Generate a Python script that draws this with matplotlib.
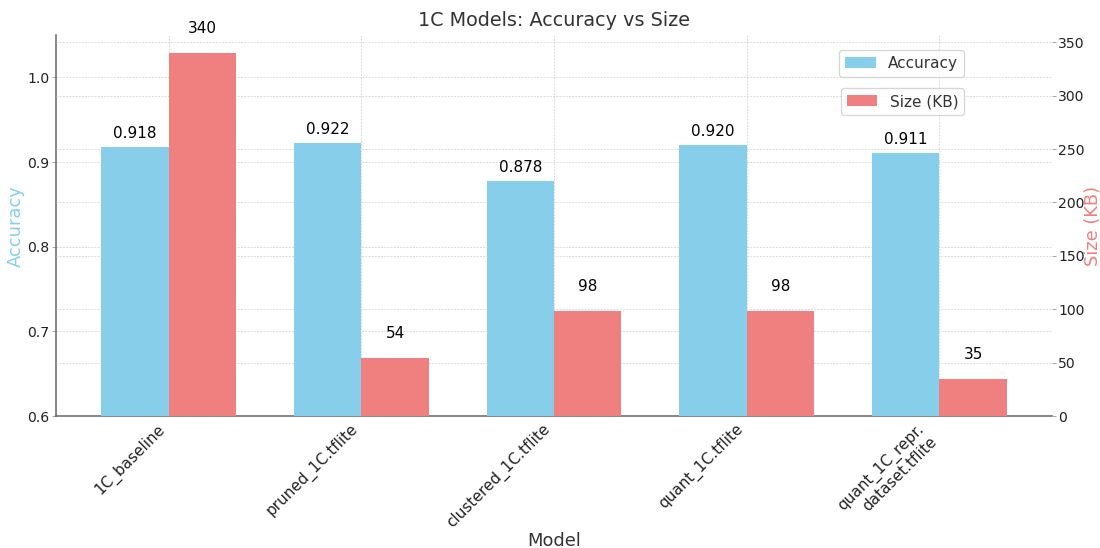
import matplotlib
matplotlib.use('Agg')
import matplotlib.pyplot as plt
import numpy as np

models = ['1C_baseline', 'pruned_1C.tflite', 'clustered_1C.tflite',
          'quant_1C.tflite', 'quant_1C_repr.\ndataset.tflite']
accuracy = [0.918, 0.922, 0.878, 0.920, 0.911]
size_kb = [340, 54, 98, 98, 35]

acc_color = 'skyblue'
size_color = 'lightcoral'
text_color = '#333333'
width = 0.35

x = np.arange(len(models))

fig = plt.figure(figsize=(12, 5.98), dpi=1100 / 12)
ax1 = fig.add_subplot(111)
fig.subplots_adjust(left=0.0509, right=0.9564, bottom=0.2409, top=0.9361)
ax2 = ax1.twinx()
# overlay axes so the accuracy bars sit above the size-axis grid
ax3 = fig.add_axes(ax1.get_position(), sharex=ax1, sharey=ax1, frameon=False)
ax3.axis('off')

for ax in (ax1, ax2):
    ax.set_axisbelow(True)
    ax.grid(True, linestyle=(0, (3, 2)), linewidth=0.5, color='#c8c8c8')
    for s in ('top', 'right'):
        ax.spines[s].set_visible(False)
    ax.tick_params(colors='#aaaaaa', labelcolor='#222222', labelsize=11, length=3, pad=2)
ax2.grid(axis='x', visible=False)
ax2.spines['left'].set_visible(False)
ax2.spines['bottom'].set_visible(False)
for s in ('left', 'bottom'):
    ax1.spines[s].set_color('#666666')
    ax1.spines[s].set_linewidth(1.2)

b1 = ax3.bar(x - width / 2, accuracy, width, color=acc_color, label='Accuracy')
b2 = ax2.bar(x + width / 2, size_kb, width, color=size_color, label='Size (KB)')

ax1.set_ylim(0.6, 1.05)
ax2.set_ylim(0, max(size_kb) * 1.05)
ax1.set_xlim(-0.585, len(models) - 1 + 0.585)

for xi, v in zip(x, accuracy):
    ax3.text(xi - width / 2, v + 0.007, f'{v:.3f}', ha='center', va='bottom',
             fontsize=12, color='black')
for xi, v in zip(x, size_kb):
    ax2.text(xi + width / 2, v + 16, f'{v}', ha='center', va='bottom',
             fontsize=12, color='black')

ax1.set_xticks(x)
ax1.set_xticklabels(models, rotation=45, ha='right', fontsize=12)
ax1.tick_params(axis='x', length=0, pad=4)

ax1.set_ylabel('Accuracy', color=acc_color, fontsize=14)
ax2.set_ylabel('Size (KB)', color=size_color, fontsize=14)
ax1.yaxis.set_label_coords(-0.031, 0.5)
ax2.yaxis.set_label_coords(1.032, 0.5)
ax1.set_xlabel('Model', color=text_color, fontsize=14)
ax1.xaxis.set_label_coords(0.5, -0.305)
ax1.set_title('1C Models: Accuracy vs Size', color=text_color, fontsize=15, pad=7)

ax1.legend(handles=[b1], loc='upper right', bbox_to_anchor=(0.912, 0.961),
           borderaxespad=0, fontsize=12, labelcolor=text_color, edgecolor='#cccccc')
ax2.legend(handles=[b2], loc='upper right', bbox_to_anchor=(0.912, 0.861),
           borderaxespad=0, fontsize=12, labelcolor=text_color, edgecolor='#cccccc')

fig.savefig('out.png', dpi=1100 / 12)
